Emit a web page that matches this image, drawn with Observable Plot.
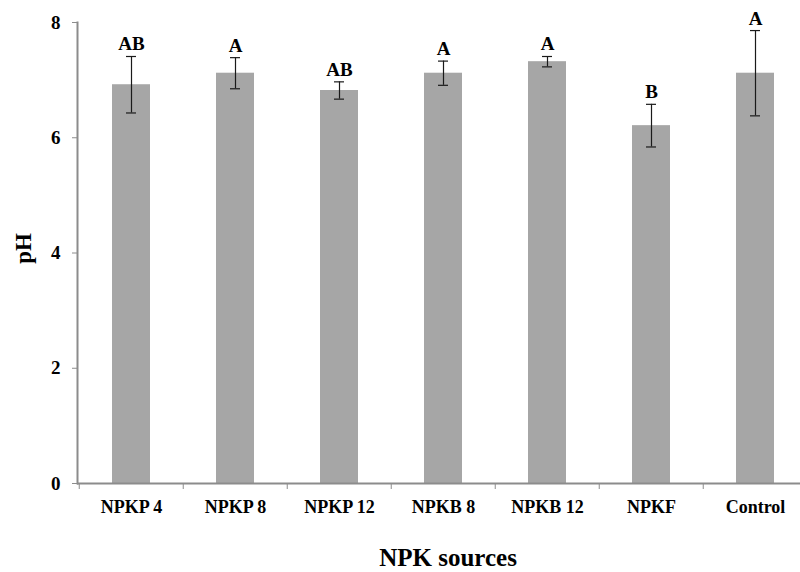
<!DOCTYPE html>
<html>
<head>
<meta charset="utf-8">
<script src="https://cdn.jsdelivr.net/npm/d3@7"></script>
<script src="https://cdn.jsdelivr.net/npm/@observablehq/plot@0.6"></script>
<style>
  html, body { margin: 0; padding: 0; background: #fff; overflow: hidden; }
</style>
</head>
<body>
<div id="chart"></div>
<script>
const categories = ["NPKP 4", "NPKP 8", "NPKP 12", "NPKB 8", "NPKB 12", "NPKF", "Control"];
const phMean = [6.92, 7.12, 6.82, 7.12, 7.32, 6.21, 7.12];
const phErr = [0.49, 0.27, 0.15, 0.21, 0.09, 0.37, 0.74];
const letters = ["AB", "A", "AB", "A", "A", "B", "A"];
const yTicks = [0, 2, 4, 6, 8];

const data = categories.map((c, i) => ({
  cat: c, ph: phMean[i], err: phErr[i], letter: letters[i],
  lo: phMean[i] - phErr[i], hi: phMean[i] + phErr[i]
}));

const serif = "'Liberation Serif', 'Times New Roman', serif";
const xRange = [77.3, 809];
const step = (xRange[1] - xRange[0]) / categories.length;

const chart = Plot.plot({
  width: 800,
  height: 572,
  marginLeft: 77,
  marginRight: 0,
  marginTop: 22,
  marginBottom: 89,
  style: { fontFamily: serif, background: "#fff", overflow: "visible" },
  x: { domain: categories, range: xRange, paddingInner: 0.636, paddingOuter: 0.318, label: null },
  y: { domain: [0, 8], range: [483, 22], label: null },
  marks: [
    Plot.barY(data, { x: "cat", y: "ph", fill: "#a6a6a6" }),
    Plot.ruleX(data, { x: "cat", y1: "lo", y2: "hi", stroke: "#1a1a1a", strokeWidth: 1.2 }),
    Plot.tickY(data, { x: "cat", y: "lo", stroke: "#1a1a1a", strokeWidth: 1.2, insetLeft: 14, insetRight: 14 }),
    Plot.tickY(data, { x: "cat", y: "hi", stroke: "#1a1a1a", strokeWidth: 1.2, insetLeft: 14, insetRight: 14 }),
    Plot.text(data, { x: "cat", y: "hi", text: "letter", lineAnchor: "bottom", dy: -6,
      fontSize: 19, fontWeight: "bold", fontFamily: serif, fill: "#000" }),
    Plot.frame({ anchor: "left", stroke: "#8c8c8c", strokeWidth: 2 }),
    Plot.ruleY([0], { stroke: "#8c8c8c", strokeWidth: 2 }),
    Plot.axisY({ ticks: yTicks, tickSize: 5, tickPadding: 12, stroke: "#8c8c8c", fill: "#000",
      fontSize: 19, fontWeight: "bold", fontFamily: serif, label: null }),
    Plot.axisX({ tickSize: 6, fill: "none", stroke: "#8c8c8c", dx: -step / 2, label: null }),
    Plot.axisX({ tickSize: 0, tickPadding: 17, fill: "#000", fontSize: 18, fontWeight: "bold",
      fontFamily: serif, label: null }),
    Plot.text(["pH"], { frameAnchor: "left", text: d => d, rotate: -90, dx: -54, dy: -4.5,
      lineAnchor: "middle", textAnchor: "middle", fontSize: 23, fontWeight: "bold", fontFamily: serif, fill: "#000" }),
    Plot.text(["NPK sources"], { frameAnchor: "bottom", text: d => d, dy: 74, dx: 9,
      lineAnchor: "middle", fontSize: 25, fontWeight: "bold", fontFamily: serif, fill: "#000" })
  ]
});
document.getElementById("chart").appendChild(chart);
</script>
</body>
</html>
